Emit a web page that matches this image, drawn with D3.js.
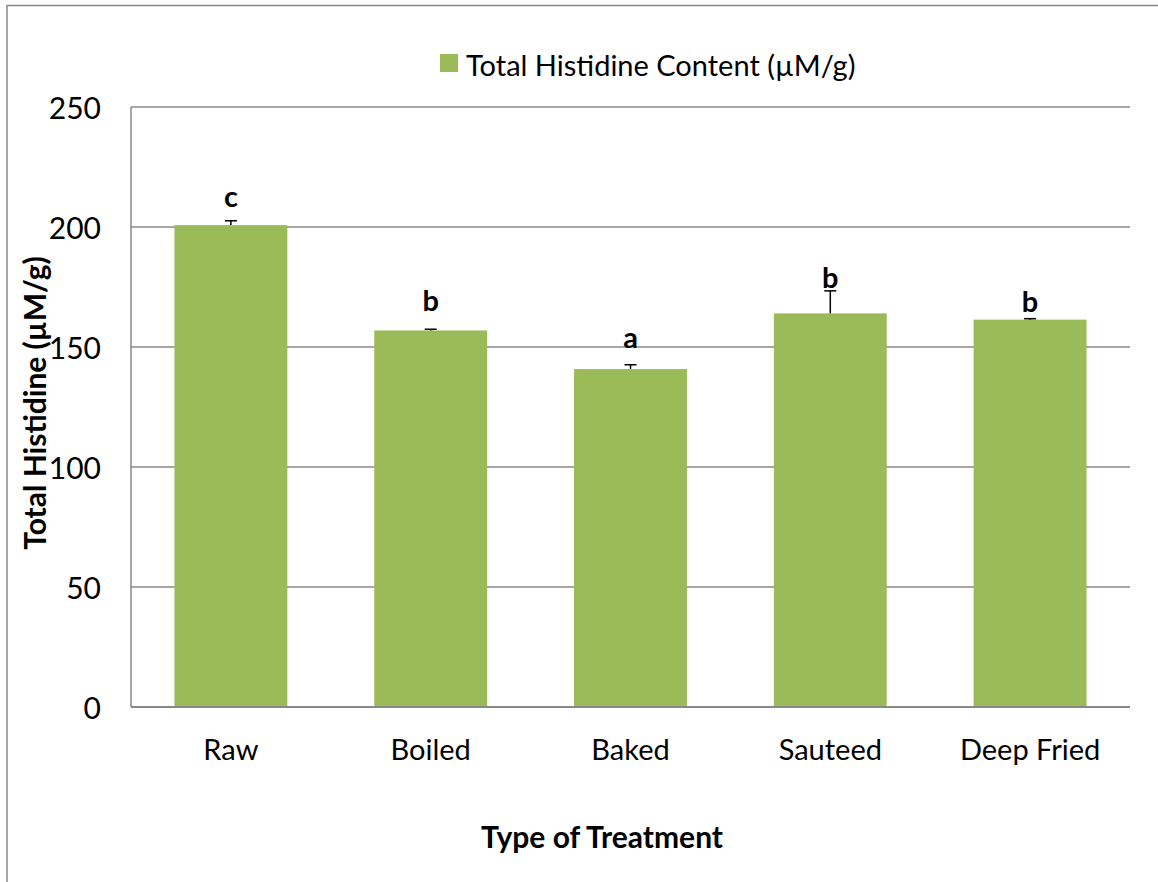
<!DOCTYPE html>
<html>
<head>
<meta charset="utf-8">
<script src="https://cdn.jsdelivr.net/npm/d3@7"></script>
<style>
  html, body { margin: 0; padding: 0; background: #fff; }
  svg { display: block; font-family: Lato, "Open Sans", sans-serif; }
</style>
</head>
<body>
<svg id="chart" width="1158" height="882"></svg>
<script>
const categories = ["Raw", "Boiled", "Baked", "Sauteed", "Deep Fried"];
const values = [200.8, 156.9, 140.8, 164.0, 161.4];
const errors = [1.8, 0.5, 1.8, 9.4, 0.4];
const letters = ["c", "b", "a", "b", "b"];
const letterY = [213, 170, 154.5, 179.5, 169.5];
const yTicks = [0, 50, 100, 150, 200, 250];
const seriesName = "Total Histidine Content (\u00b5M/g)";
const yTitle = "Total Histidine (\u00b5M/g)";
const xTitle = "Type of Treatment";

const svg = d3.select("#chart");
const W = 1158, H = 882;
const plot = { left: 131, right: 1130, top: 107, bottom: 707 };
const barColor = "#9bbb59";
const gridColor = "#888888";

// outer chart border (top and left visible)
svg.append("line").attr("x1", 7).attr("x2", W).attr("y1", 5.5).attr("y2", 5.5)
  .attr("stroke", gridColor).attr("stroke-width", 1.5);
svg.append("line").attr("x1", 7).attr("x2", 7).attr("y1", 5).attr("y2", H)
  .attr("stroke", gridColor).attr("stroke-width", 1.5);

const x = d3.scaleBand().domain(categories).range([plot.left, plot.right]).paddingInner(0.435).paddingOuter(0.2175);
const y = d3.scaleLinear().domain([0, 250]).range([plot.bottom, plot.top]);

// gridlines
svg.append("g").selectAll("line").data(yTicks).join("line")
  .attr("x1", plot.left).attr("x2", plot.right)
  .attr("y1", d => y(d)).attr("y2", d => y(d))
  .attr("stroke", gridColor).attr("stroke-width", 1.5);

// y axis line
svg.append("line").attr("x1", plot.left).attr("x2", plot.left)
  .attr("y1", plot.top).attr("y2", plot.bottom)
  .attr("stroke", gridColor).attr("stroke-width", 1.5);

// bars
svg.append("g").selectAll("rect").data(categories).join("rect")
  .attr("x", d => x(d)).attr("width", x.bandwidth())
  .attr("y", (d, i) => y(values[i]))
  .attr("height", (d, i) => y(0) - y(values[i]))
  .attr("fill", barColor);

// x axis line (drawn over bars)
svg.append("line").attr("x1", plot.left).attr("x2", plot.right)
  .attr("y1", y(0)).attr("y2", y(0))
  .attr("stroke", gridColor).attr("stroke-width", 2);

// error bars (positive only)
const eg = svg.append("g").attr("stroke", "#000").attr("stroke-width", 1.5);
categories.forEach((c, i) => {
  const cx = x(c) + x.bandwidth() / 2;
  eg.append("line").attr("x1", cx).attr("x2", cx)
    .attr("y1", y(values[i])).attr("y2", y(values[i] + errors[i]));
  eg.append("line").attr("x1", cx - 6).attr("x2", cx + 6)
    .attr("y1", y(values[i] + errors[i])).attr("y2", y(values[i] + errors[i]));
});

// significance letters
svg.append("g").selectAll("text").data(categories).join("text")
  .attr("x", d => x(d) + x.bandwidth() / 2)
  .attr("y", (d, i) => y(letterY[i]))
  .attr("text-anchor", "middle").attr("dominant-baseline", "central")
  .attr("font-size", 29).attr("font-weight", "bold").attr("fill", "#000")
  .text((d, i) => letters[i]);

// y tick labels
svg.append("g").selectAll("text").data(yTicks).join("text")
  .attr("x", 101).attr("y", d => y(d))
  .attr("text-anchor", "end").attr("dominant-baseline", "central")
  .attr("font-size", 30).attr("fill", "#000")
  .text(d => d);

// x tick labels
svg.append("g").selectAll("text").data(categories).join("text")
  .attr("x", d => x(d) + x.bandwidth() / 2).attr("y", 748)
  .attr("text-anchor", "middle").attr("dominant-baseline", "central")
  .attr("font-size", 29).attr("fill", "#000")
  .text(d => d);

// axis titles
svg.append("text").attr("x", 602).attr("y", 836)
  .attr("text-anchor", "middle").attr("dominant-baseline", "central")
  .attr("font-size", 30).attr("font-weight", "bold").attr("fill", "#000")
  .text(xTitle);
svg.append("text")
  .attr("transform", "translate(34,403) rotate(-90)")
  .attr("text-anchor", "middle").attr("dominant-baseline", "central")
  .attr("font-size", 30).attr("font-weight", "bold").attr("fill", "#000")
  .text(yTitle);

// legend
const lg = svg.append("g");
lg.append("rect").attr("x", 440).attr("y", 54).attr("width", 18).attr("height", 18).attr("fill", barColor);
lg.append("text").attr("x", 466).attr("y", 64)
  .attr("dominant-baseline", "central")
  .attr("font-size", 29).attr("fill", "#000")
  .text(seriesName);
</script>
</body>
</html>
